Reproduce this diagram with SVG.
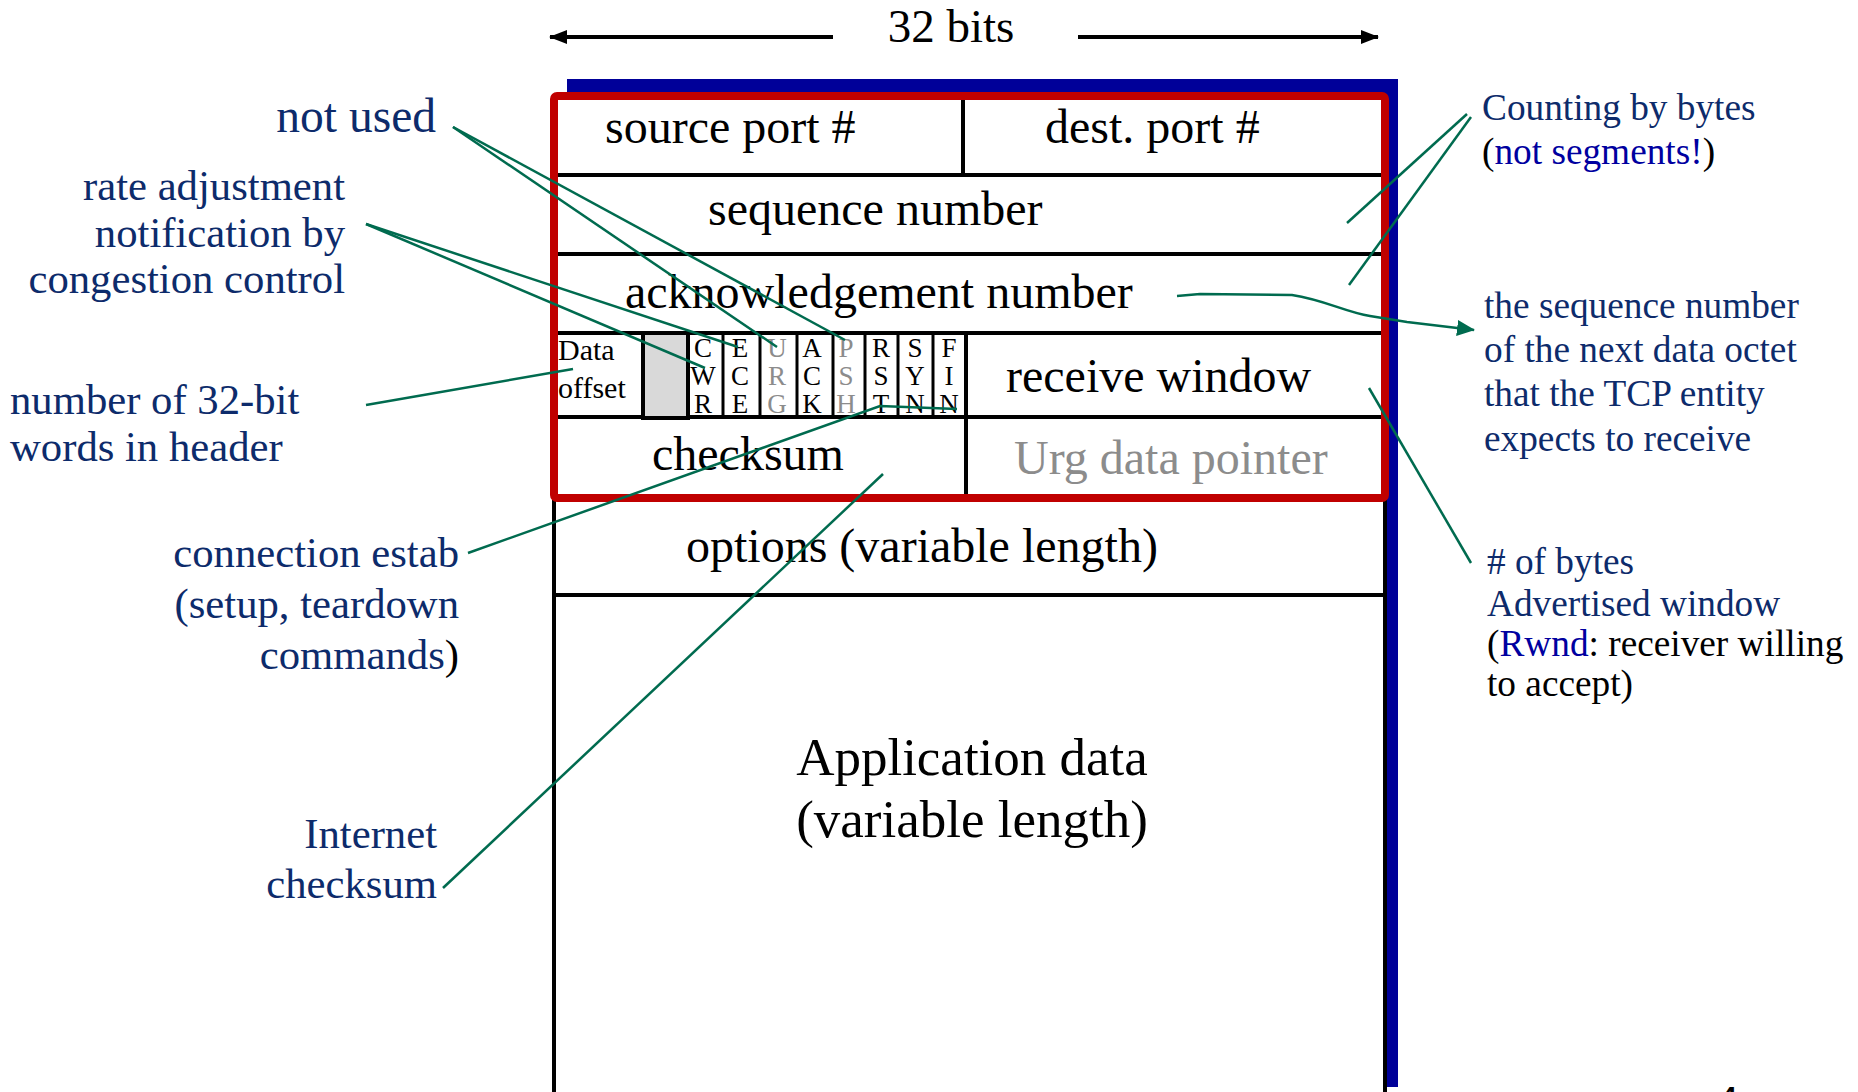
<svg xmlns="http://www.w3.org/2000/svg" width="1858" height="1092" viewBox="0 0 1858 1092">
<style>
  .t { font-family: "Liberation Serif", "Times New Roman", serif; fill: #000; }
  .f48 { font-size: 48px; }
  .gr { fill: #8c8c8c; }
  .lbl { font-family: "Liberation Serif", "Times New Roman", serif; font-size: 42.7px; fill: #0d2b6b; }
  .rl { font-family: "Liberation Serif", "Times New Roman", serif; font-size: 37.3px; fill: #0d2b6b; }
  .row { stroke: #000; stroke-width: 4; fill: none; }
  .div { stroke: #000; stroke-width: 3; fill: none; }
  .flag { font-family: "Liberation Serif", "Times New Roman", serif; font-size: 27px; text-anchor: middle; }
  .conn { stroke: #006b4f; stroke-width: 2.5; fill: none; }
</style>
<defs>
  <marker id="blackHead" viewBox="0 0 18 14" refX="17" refY="7" markerWidth="18" markerHeight="14" markerUnits="userSpaceOnUse" orient="auto">
    <path d="M0,0 L18,7 L0,14 Z" fill="#000"/>
  </marker>
  <marker id="greenHead" viewBox="0 0 18 16" refX="17" refY="8" markerWidth="18" markerHeight="16" markerUnits="userSpaceOnUse" orient="auto">
    <path d="M0,0 L18,8 L0,16 Z" fill="#006b4f"/>
  </marker>
</defs>
<rect width="1858" height="1092" fill="#fff"/>

<g id="width-arrow">
  <line x1="833" y1="37" x2="550" y2="37" stroke="#000" stroke-width="4" marker-end="url(#blackHead)"/>
  <line x1="1078" y1="37" x2="1378" y2="37" stroke="#000" stroke-width="4" marker-end="url(#blackHead)"/>
  <text class="t" x="951" y="42" style="font-size:47px" text-anchor="middle">32 bits</text>
</g>

<g id="segment">
  <rect x="567" y="79" width="831" height="1008" fill="#000099"/>
  <rect x="554" y="96" width="831" height="1010" fill="#fff" stroke="#000" stroke-width="4"/>
  <line class="row" x1="556" y1="175" x2="1383" y2="175"/>
  <line class="row" x1="556" y1="254" x2="1383" y2="254"/>
  <line class="row" x1="556" y1="333" x2="1383" y2="333"/>
  <line class="row" x1="556" y1="417" x2="1383" y2="417"/>
  <line class="row" x1="556" y1="595" x2="1383" y2="595"/>
  <line class="row" x1="963" y1="98" x2="963" y2="175"/>
  <line class="row" x1="966" y1="333" x2="966" y2="498"/>
</g>

<g id="source-port"><text class="t f48" x="605" y="143">source port #</text></g>
<g id="dest-port"><text class="t f48" x="1045" y="143">dest. port #</text></g>
<g id="sequence-number"><text class="t f48" x="708" y="225">sequence number</text></g>
<g id="ack-number"><text class="t f48" x="625" y="308">acknowledgement number</text></g>

<g id="data-offset">
  <text class="t" style="font-size:30px" x="558" y="360">Data</text>
  <text class="t" style="font-size:30px" x="558" y="398">offset</text>
</g>
<g id="unused-bits">
  <rect x="643" y="333" width="45" height="85" fill="#d9d9d9" stroke="#000" stroke-width="4"/>
</g>
<g id="flags">
  <line class="div" x1="723" y1="333" x2="723" y2="417"/>
  <line class="div" x1="760" y1="333" x2="760" y2="417"/>
  <line class="div" x1="797" y1="333" x2="797" y2="417"/>
  <line class="div" x1="833" y1="333" x2="833" y2="417"/>
  <line class="div" x1="865" y1="333" x2="865" y2="417"/>
  <line class="div" x1="898" y1="333" x2="898" y2="417"/>
  <line class="div" x1="933" y1="333" x2="933" y2="417"/>
  <g id="flag-cwr"><text class="flag" x="703" y="357">C</text><text class="flag" x="703" y="385">W</text><text class="flag" x="703" y="413">R</text></g>
  <g id="flag-ece"><text class="flag" x="740" y="357">E</text><text class="flag" x="740" y="385">C</text><text class="flag" x="740" y="413">E</text></g>
  <g id="flag-urg"><text class="flag gr" x="777" y="357">U</text><text class="flag gr" x="777" y="385">R</text><text class="flag gr" x="777" y="413">G</text></g>
  <g id="flag-ack"><text class="flag" x="812" y="357">A</text><text class="flag" x="812" y="385">C</text><text class="flag" x="812" y="413">K</text></g>
  <g id="flag-psh"><text class="flag gr" x="846" y="357">P</text><text class="flag gr" x="846" y="385">S</text><text class="flag gr" x="846" y="413">H</text></g>
  <g id="flag-rst"><text class="flag" x="881" y="357">R</text><text class="flag" x="881" y="385">S</text><text class="flag" x="881" y="413">T</text></g>
  <g id="flag-syn"><text class="flag" x="915" y="357">S</text><text class="flag" x="915" y="385">Y</text><text class="flag" x="915" y="413">N</text></g>
  <g id="flag-fin"><text class="flag" x="949" y="357">F</text><text class="flag" x="949" y="385">I</text><text class="flag" x="949" y="413">N</text></g>
</g>
<g id="receive-window"><text class="t f48" x="1006" y="392">receive window</text></g>
<g id="checksum"><text class="t f48" x="652" y="470">checksum</text></g>
<g id="urg-pointer"><text class="t f48 gr" x="1014" y="474">Urg data pointer</text></g>
<g id="options"><text class="t f48" x="686" y="562">options (variable length)</text></g>
<g id="app-data">
  <text class="t" style="font-size:53px" x="972" y="775" text-anchor="middle">Application data</text>
  <text class="t" style="font-size:53px" x="972" y="837" text-anchor="middle">(variable length)</text>
</g>

<g id="header-box">
  <rect x="554" y="96" width="831" height="402" rx="3" fill="none" stroke="#c00000" stroke-width="8"/>
</g>

<g id="connectors">
  <polyline class="conn" points="453,127 777,347"/>
  <polyline class="conn" points="453,127 845,340"/>
  <polyline class="conn" points="366,224 738,347"/>
  <polyline class="conn" points="366,224 705,368"/>
  <polyline class="conn" points="366,405 573,369"/>
  <polyline class="conn" points="468,553 880,406 957,409"/>
  <polyline class="conn" points="443,888 883,474"/>
  <polyline class="conn" points="1467,114 1347,223"/>
  <polyline class="conn" points="1471,117 1349,285"/>
  <path class="conn" d="M1177,296 L1200,294 L1292,295 C1325,300 1345,312 1370,316 L1407,322 L1474,330" marker-end="url(#greenHead)"/>
  <polyline class="conn" points="1369,388 1471,563"/>
</g>

<g id="label-not-used"><text class="lbl" style="font-size:47.5px" x="436" y="132" text-anchor="end">not used</text></g>
<g id="label-rate">
  <text class="lbl" x="345" y="200" text-anchor="end">rate adjustment</text>
  <text class="lbl" x="345" y="247" text-anchor="end">notification by</text>
  <text class="lbl" x="345" y="293" text-anchor="end">congestion control</text>
</g>
<g id="label-hlen">
  <text class="lbl" x="10" y="414">number of 32-bit</text>
  <text class="lbl" x="10" y="461">words in header</text>
</g>
<g id="label-conn">
  <text class="lbl" x="459" y="567" text-anchor="end">connection estab</text>
  <text class="lbl" x="459" y="618" text-anchor="end">(setup, teardown</text>
  <text class="lbl" x="459" y="669" text-anchor="end">commands<tspan fill="#000">)</tspan></text>
</g>
<g id="label-checksum">
  <text class="lbl" x="437" y="848" text-anchor="end">Internet</text>
  <text class="lbl" x="437" y="898" text-anchor="end">checksum</text>
</g>
<g id="label-counting">
  <text class="rl" x="1482" y="120">Counting by bytes</text>
  <text class="rl" x="1482" y="164"><tspan fill="#000">(</tspan><tspan fill="#0000a0">not segments!</tspan><tspan fill="#000">)</tspan></text>
</g>
<g id="label-ack">
  <text class="rl" x="1484" y="318">the sequence number</text>
  <text class="rl" x="1484" y="362">of the next data octet</text>
  <text class="rl" x="1484" y="406">that the TCP entity</text>
  <text class="rl" x="1484" y="451">expects to receive</text>
</g>
<g id="label-rwnd">
  <text class="rl" x="1487" y="574"># of bytes</text>
  <text class="rl" x="1487" y="616">Advertised window</text>
  <text class="rl" x="1487" y="656"><tspan fill="#000">(</tspan><tspan fill="#0000a0">Rwnd</tspan><tspan fill="#000">: receiver willing</tspan></text>
  <text class="rl" x="1487" y="696" style="fill:#000">to accept)</text>
</g>
<g id="page-number">
  <text x="1721" y="1106" style="font-family:'Liberation Sans', Arial, sans-serif; font-size:28px; font-weight:bold; fill:#000">4</text>
</g>
</svg>
